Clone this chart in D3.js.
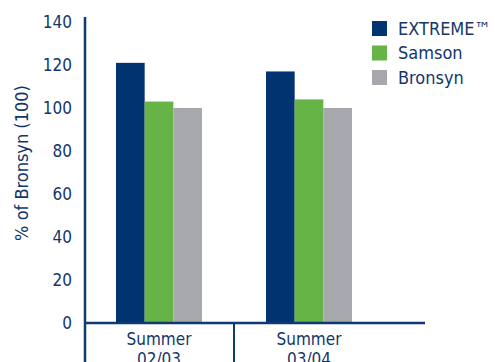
<!DOCTYPE html>
<html>
<head>
<meta charset="utf-8">
<script src="https://cdn.jsdelivr.net/npm/d3@7"></script>
<style>
  body { margin: 0; background: #fff; }
  svg { display: block; }
  text { font-family: "Liberation Sans Narrow", "DejaVu Sans Condensed", sans-serif; fill: #13366a; }
</style>
</head>
<body>
<div id="chart"></div>
<script>
var seasons = ["Summer\n02/03", "Summer\n03/04"];
var varieties = ["EXTREME™", "Samson", "Bronsyn"];
var extremeVals = [121, 117];
var samsonVals = [103, 104];
var bronsynVals = [100, 100];
var yTicks = [0, 20, 40, 60, 80, 100, 120, 140];
var colors = ["#00336f", "#66b346", "#a7a8ab"];

var width = 495, height = 362;
var axisColor = "#0e3a73";

var svg = d3.select("#chart").append("svg")
    .attr("width", width)
    .attr("height", height);

var y = d3.scaleLinear().domain([0, 140]).range([323, 22]);

var x0 = d3.scaleBand().domain(seasons).range([86, 386]).paddingInner(0).paddingOuter(0);
var x1 = d3.scaleBand().domain(varieties).range([30, 116]);

var rows = seasons.map(function(s, i) {
  return { season: s, vals: [extremeVals[i], samsonVals[i], bronsynVals[i]] };
});

// bars
var groups = svg.selectAll("g.grp").data(rows).enter()
  .append("g")
  .attr("class", "grp")
  .attr("transform", function(d) { return "translate(" + x0(d.season) + ",0)"; });

groups.selectAll("rect").data(function(d) {
    return d.vals.map(function(v, j) { return { key: varieties[j], v: v, c: colors[j] }; });
  }).enter()
  .append("rect")
  .attr("x", function(d) { return x1(d.key); })
  .attr("width", x1.bandwidth())
  .attr("y", function(d) { return y(d.v); })
  .attr("height", function(d) { return y(0) - y(d.v); })
  .style("fill", function(d) { return d.c; });

// y axis
svg.append("line")
  .attr("x1", 85).attr("x2", 85)
  .attr("y1", 17).attr("y2", height)
  .style("stroke", axisColor).style("stroke-width", 2.5);

svg.selectAll("text.ytick").data(yTicks).enter()
  .append("text")
  .attr("class", "ytick")
  .attr("x", 72)
  .attr("y", function(d) { return y(d); })
  .attr("dy", "0.35em")
  .attr("text-anchor", "end")
  .style("font-size", "17px")
  .text(function(d) { return d; });

// baseline
svg.append("line")
  .attr("x1", 85).attr("x2", 425)
  .attr("y1", y(0)).attr("y2", y(0))
  .style("stroke", axisColor).style("stroke-width", 2.5);

// divider between categories
svg.append("line")
  .attr("x1", 234).attr("x2", 234)
  .attr("y1", y(0)).attr("y2", height)
  .style("stroke", axisColor).style("stroke-width", 2);

// category labels (second line runs off the bottom, as in the original)
var catText = svg.selectAll("text.cat").data(seasons).enter()
  .append("text")
  .attr("class", "cat")
  .attr("text-anchor", "middle")
  .style("font-size", "17px");

catText.selectAll("tspan").data(function(d) {
    var parts = d.split("\n");
    return parts.map(function(p) { return { t: p, s: d }; });
  }).enter()
  .append("tspan")
  .attr("x", function(d) { return x0(d.s) + 73; })
  .attr("y", function(d, i) { return 345 + i * 20; })
  .text(function(d) { return d.t; });

// y axis title
svg.append("text")
  .attr("transform", "translate(28,163) rotate(-90)")
  .attr("text-anchor", "middle")
  .style("font-size", "18px")
  .text("% of Bronsyn (100)");

// legend
var legend = svg.append("g").attr("transform", "translate(372,21)");

legend.selectAll("rect").data(varieties).enter()
  .append("rect")
  .attr("x", 0)
  .attr("y", function(d, i) { return i * 24.5; })
  .attr("width", 15)
  .attr("height", 15)
  .style("fill", function(d, i) { return colors[i]; });

legend.selectAll("text").data(varieties).enter()
  .append("text")
  .attr("x", 26)
  .attr("y", function(d, i) { return i * 24.5 + 7.5; })
  .attr("dy", "0.35em")
  .style("font-size", "18px")
  .text(function(d) { return d; });
</script>
</body>
</html>
